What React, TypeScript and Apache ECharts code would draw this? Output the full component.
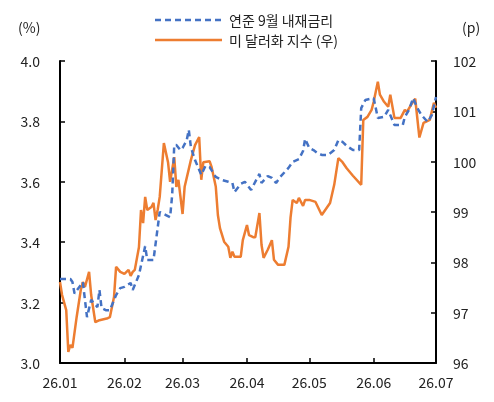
import React, { useEffect, useRef } from "react";
import * as echarts from "echarts";

// x = days since 2026-01-01
const monthStartDays = [0, 31, 59, 90, 120, 151, 181];
const monthLabels = ["26.01", "26.02", "26.03", "26.04", "26.05", "26.06", "26.07"];
const seriesNames = ["연준 9월 내재금리", "미 달러화 지수 (우)"];

const rateDays = [0, 5, 6, 7, 10, 11, 13, 15, 18, 19, 20, 22, 24, 27, 29, 31, 34, 35, 38, 41, 42, 45, 47, 48, 51, 53, 54, 55, 56, 58, 59, 61, 62, 63, 65, 68, 70, 72, 75, 78, 81, 83, 84, 87, 89, 92, 94, 96, 97, 100, 102, 104, 106, 110, 112, 115, 117, 118, 120, 122, 124, 126, 129, 132, 134, 136, 138, 141, 144, 145, 147, 151, 152, 153, 156, 158, 159, 161, 163, 165, 166, 168, 170, 172, 174, 177, 179, 181];
const rateValues = [3.278, 3.278, 3.268, 3.23, 3.258, 3.268, 3.152, 3.209, 3.185, 3.242, 3.182, 3.175, 3.175, 3.225, 3.248, 3.252, 3.265, 3.242, 3.291, 3.387, 3.341, 3.341, 3.447, 3.5, 3.49, 3.483, 3.556, 3.722, 3.722, 3.705, 3.712, 3.738, 3.772, 3.715, 3.672, 3.623, 3.652, 3.649, 3.616, 3.606, 3.6, 3.596, 3.566, 3.593, 3.6, 3.573, 3.6, 3.626, 3.596, 3.619, 3.613, 3.596, 3.616, 3.646, 3.666, 3.675, 3.702, 3.742, 3.712, 3.705, 3.695, 3.689, 3.689, 3.705, 3.738, 3.732, 3.719, 3.705, 3.705, 3.844, 3.871, 3.877, 3.844, 3.811, 3.815, 3.838, 3.821, 3.788, 3.788, 3.788, 3.815, 3.838, 3.877, 3.844, 3.821, 3.798, 3.821, 3.881];

const dxyDays = [0, 1, 3, 4, 5, 6, 8, 10, 11, 12, 14, 15, 17, 19, 23, 24, 26, 27, 29, 31, 33, 34, 35, 36, 38, 39, 40, 41, 42, 44, 45, 46, 47, 48, 50, 52, 53, 55, 56, 57, 59, 60, 63, 65, 67, 68, 69, 72, 73, 75, 76, 77, 79, 81, 82, 83, 84, 87, 88, 90, 91, 93, 94, 96, 97, 98, 100, 102, 103, 105, 108, 110, 111, 112, 114, 115, 117, 118, 120, 123, 126, 130, 132, 134, 136, 138, 141, 145, 146, 148, 150, 151, 153, 154, 156, 158, 159, 161, 164, 166, 167, 169, 171, 173, 175, 178, 180, 181];
const dxyValues = [97.61, 97.35, 97.05, 96.22, 96.36, 96.3, 96.91, 97.45, 97.61, 97.51, 97.81, 97.35, 96.81, 96.85, 96.89, 96.91, 97.31, 97.91, 97.81, 97.77, 97.85, 97.73, 97.81, 97.85, 98.3, 99.04, 98.78, 99.3, 99.04, 99.1, 99.18, 98.84, 99.04, 99.3, 100.37, 99.99, 99.6, 100.09, 99.5, 99.64, 98.96, 99.5, 100.03, 100.33, 100.49, 99.64, 99.99, 100.01, 99.89, 99.5, 98.94, 98.68, 98.41, 98.31, 98.09, 98.21, 98.11, 98.11, 98.44, 98.74, 98.54, 98.5, 98.5, 98.98, 98.35, 98.09, 98.25, 98.44, 98.05, 97.95, 97.95, 98.31, 98.9, 99.24, 99.18, 99.28, 99.12, 99.24, 99.24, 99.2, 98.94, 99.18, 99.54, 100.07, 99.99, 99.87, 99.72, 99.54, 100.83, 100.89, 101.03, 101.19, 101.59, 101.33, 101.19, 101.09, 101.33, 100.87, 100.87, 101.03, 100.99, 101.13, 101.25, 100.48, 100.77, 100.83, 101.17, 101.07];

const FONT = "'Noto Sans CJK KR', 'Noto Sans', sans-serif";
const TXT = "#222";
const BLUE = "#4472C4";
const ORANGE = "#ED7D31";

export default function App() {
  const ref = useRef<HTMLDivElement>(null);
  useEffect(() => {
    if (!ref.current) return;
    const chart = echarts.init(ref.current, null, { renderer: "svg" });
    chart.setOption({
      animation: false,
      textStyle: { fontFamily: FONT },
      grid: { left: 60, right: 58, top: 61, bottom: 39 },
      graphic: [
        { type: "text", left: 18, top: 20, style: { text: "(%)", font: `14px ${FONT}`, fill: TXT } },
        { type: "text", left: 462, top: 20, style: { text: "(p)", font: `14px ${FONT}`, fill: TXT } },
        { type: "line", shape: { x1: 155, y1: 20, x2: 222, y2: 20 }, style: { stroke: BLUE, lineWidth: 2.5, lineDash: [6, 4] } },
        { type: "line", shape: { x1: 155, y1: 40, x2: 222, y2: 40 }, style: { stroke: ORANGE, lineWidth: 2.5 } },
        { type: "text", x: 229, y: 20, style: { text: seriesNames[0], font: `14px ${FONT}`, fill: TXT, verticalAlign: "middle", lineHeight: 16 } },
        { type: "text", x: 229, y: 40, style: { text: seriesNames[1], font: `14px ${FONT}`, fill: TXT, verticalAlign: "middle", lineHeight: 16 } },
      ],
      xAxis: {
        type: "value",
        min: 0,
        max: 181,
        splitLine: { show: false },
        axisLine: { lineStyle: { color: "#000", width: 2 } },
        axisTick: { inside: true, length: 5, customValues: monthStartDays, lineStyle: { color: "#000", width: 1.5 } },
        axisLabel: {
          customValues: monthStartDays,
          formatter: (v: number) => monthLabels[monthStartDays.indexOf(Math.round(v))] ?? "",
          fontSize: 14,
          color: TXT,
          margin: 12,
          fontFamily: FONT,
        },
      },
      yAxis: [
        {
          type: "value",
          min: 3,
          max: 4,
          interval: 0.2,
          splitLine: { show: false },
          axisLine: { show: true, lineStyle: { color: "#000", width: 2 } },
          axisTick: { show: true, inside: true, length: 5, lineStyle: { color: "#000", width: 1.5 } },
          axisLabel: { formatter: (v: number) => v.toFixed(1), fontSize: 14, color: TXT, margin: 20, fontFamily: FONT },
        },
        {
          type: "value",
          min: 96,
          max: 102,
          interval: 1,
          position: "right",
          splitLine: { show: false },
          axisLine: { show: true, lineStyle: { color: "#000", width: 2 } },
          axisTick: { show: true, inside: true, length: 5, lineStyle: { color: "#000", width: 1.5 } },
          axisLabel: { fontSize: 14, color: TXT, margin: 17, fontFamily: FONT },
        },
      ],
      series: [
        {
          name: seriesNames[0],
          type: "line",
          yAxisIndex: 0,
          showSymbol: false,
          symbol: "none",
          data: rateDays.map((d, i) => [d, rateValues[i]]),
          lineStyle: { color: BLUE, width: 2.5, type: [6, 4] },
          itemStyle: { color: BLUE },
          z: 3,
        },
        {
          name: seriesNames[1],
          type: "line",
          yAxisIndex: 1,
          showSymbol: false,
          symbol: "none",
          data: dxyDays.map((d, i) => [d, dxyValues[i]]),
          lineStyle: { color: ORANGE, width: 2.5 },
          itemStyle: { color: ORANGE },
          z: 2,
        },
      ],
    });
    return () => chart.dispose();
  }, []);
  return <div ref={ref} style={{ position: "fixed", left: 0, top: 0, width: 494, height: 402 }} />;
}
